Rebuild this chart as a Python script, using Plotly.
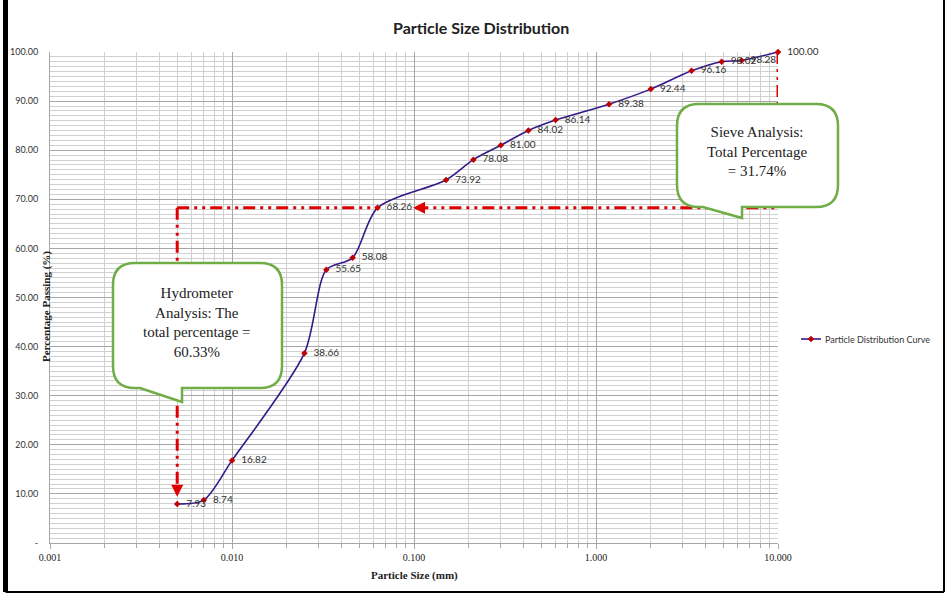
import math
import plotly.graph_objects as go

# ---- data ----
particle_size_mm = [0.005, 0.007, 0.010, 0.025, 0.033, 0.046, 0.063, 0.150, 0.212,
                    0.300, 0.425, 0.600, 1.18, 2.00, 3.35, 4.90, 6.30, 10.0]
percent_passing = [7.93, 8.74, 16.82, 38.66, 55.65, 58.08, 68.26, 73.92, 78.08,
                   81.00, 84.02, 86.14, 89.38, 92.44, 96.16, 98.02, 98.28, 100.00]
series_name = "Particle Distribution Curve"
y_tick_vals = [0, 10, 20, 30, 40, 50, 60, 70, 80, 90, 100]
y_tick_text = ["-", "10.00", "20.00", "30.00", "40.00", "50.00", "60.00",
               "70.00", "80.00", "90.00", "100.00"]
sieve_text = "Sieve Analysis:<br>Total Percentage<br>= 31.74%"
hydro_text = "Hydrometer<br>Analysis: The<br>total percentage =<br>60.33%"

W, H = 948, 595
L, R, T, B = 50, 170, 52, 52
PW, PH = W - L - R, H - T - B

LINE_COLOR = "#35188A"
MARKER_COLOR = "#C00000"


def px(xp, yp):
    """pixel -> paper coords"""
    return (xp - L) / PW, (H - B - yp) / PH


def P(x, y):
    a, b = px(x, y)
    return f"{a:.5f},{b:.5f}"


def callout_path(x0, y0, x1, y1, r, tl, tip, tr):
    s = f"M {P(x0 + r, y0)} L {P(x1 - r, y0)} Q {P(x1, y0)} {P(x1, y0 + r)} "
    s += f"L {P(x1, y1 - r)} Q {P(x1, y1)} {P(x1 - r, y1)} "
    s += f"L {P(tr, y1)} L {P(tip[0], tip[1])} L {P(tl, y1)} "
    s += f"L {P(x0 + r, y1)} Q {P(x0, y1)} {P(x0, y1 - r)} "
    s += f"L {P(x0, y0 + r)} Q {P(x0, y0)} {P(x0 + r, y0)} Z"
    return s


fig = go.Figure()
fig.add_trace(go.Scatter(
    x=particle_size_mm, y=percent_passing, mode="lines+markers+text",
    name=series_name, showlegend=False,
    line=dict(color=LINE_COLOR, width=1.6, shape="spline", smoothing=0.8),
    marker=dict(symbol="diamond", size=5, color=MARKER_COLOR),
    text=["\u2002" + f"{v:.2f}" for v in percent_passing],
    textposition="middle right",
    textfont=dict(family="Lato", size=10, color="#333333"),
    cliponaxis=False,
))

RED = "#E00000"
DASH = "12px,5px,3px,5px,3px,5px"
lx = math.log10
x_hyd = particle_size_mm[0]
y_cut = percent_passing[6]
x_max = particle_size_mm[-1]
shapes = [
    # horizontal dash-dot line at 68.26
    dict(type="line", xref="x", yref="y", x0=x_hyd, x1=particle_size_mm[6],
         y0=y_cut, y1=y_cut, line=dict(color=RED, width=3, dash=DASH), layer="above"),
    dict(type="line", xref="x", yref="y", x0=0.103, x1=x_max,
         y0=y_cut, y1=y_cut, line=dict(color=RED, width=3, dash=DASH), layer="above"),
    # vertical line down to hydrometer start
    dict(type="line", xref="x", yref="y", x0=x_hyd, x1=x_hyd,
         y0=y_cut, y1=10.5, line=dict(color=RED, width=3, dash=DASH), layer="above"),
    # vertical line at right edge
    dict(type="line", xref="x", yref="y", x0=x_max, x1=x_max,
         y0=percent_passing[-1], y1=y_cut, line=dict(color=RED, width=3, dash=DASH), layer="above"),
    # callouts
    dict(type="path", xref="paper", yref="paper",
         path=callout_path(677, 104, 838, 207, 22, 703, (742, 218), 742),
         fillcolor="white", line=dict(color="#70AD47", width=2.5), layer="above"),
    dict(type="path", xref="paper", yref="paper",
         path=callout_path(113, 263, 282, 388, 22, 140, (182, 402), 182),
         fillcolor="white", line=dict(color="#70AD47", width=2.5), layer="above"),
    # legend key (line + diamond)
    dict(type="line", xref="paper", yref="paper",
         x0=px(801, 0)[0], x1=px(821, 0)[0], y0=px(0, 339)[1], y1=px(0, 339)[1],
         line=dict(color=LINE_COLOR, width=1.6)),
    dict(type="path", xref="paper", yref="paper",
         path=f"M {P(811, 336)} L {P(814, 339)} L {P(811, 342)} L {P(808, 339)} Z",
         fillcolor=MARKER_COLOR, line=dict(color=MARKER_COLOR, width=0.5)),
]
# black frame
fx0, fy0 = px(5.5, 0)
fx1, fy1 = px(944, 592)
shapes.append(dict(type="line", xref="paper", yref="paper", x0=fx0, x1=fx0, y0=fy0, y1=fy1,
                   line=dict(color="black", width=5)))
shapes.append(dict(type="line", xref="paper", yref="paper", x0=fx1, x1=fx1, y0=fy0, y1=fy1,
                   line=dict(color="black", width=2)))
shapes.append(dict(type="line", xref="paper", yref="paper", x0=fx0, x1=fx1, y0=fy1, y1=fy1,
                   line=dict(color="black", width=2)))

C = dict(xanchor="center", yanchor="middle", showarrow=False, xref="paper", yref="paper")
annotations = [
    dict(text="<b>Particle Size Distribution</b>",
         x=px(481, 0)[0], y=px(0, 28)[1],
         font=dict(family="Lato", size=16, color="#222222"), **C),
    dict(text="<b>Particle Size (mm)</b>",
         x=px(414, 0)[0], y=px(0, 575)[1],
         font=dict(family="Liberation Serif", size=11, color="#222222"), **C),
    dict(text="<b>Percentage Passing (%)</b>",
         x=px(46, 0)[0], y=px(0, 307)[1], textangle=-90,
         font=dict(family="Liberation Serif", size=11, color="#222222"), **C),
    dict(text=sieve_text,
         x=px(757, 0)[0], y=px(0, 151)[1],
         font=dict(family="Liberation Serif", size=15, color="#222222"), **C),
    dict(text=hydro_text,
         x=px(197, 0)[0], y=px(0, 322)[1],
         font=dict(family="Liberation Serif", size=15, color="#222222"), **C),
    # legend text
    dict(text=series_name, x=px(823, 0)[0], y=px(0, 339)[1],
         xref="paper", yref="paper", xanchor="left", yanchor="middle", showarrow=False,
         font=dict(family="Lato", size=9, color="#333333")),
    # arrowheads
    dict(x=-1.005, y=y_cut, xref="x", yref="y", ax=10, ay=0, text="", showarrow=True,
         arrowhead=2, arrowsize=0.8, arrowwidth=3, arrowcolor=RED),
    dict(x=lx(x_hyd), y=9.4, xref="x", yref="y", ax=0, ay=-10, text="", showarrow=True,
         arrowhead=2, arrowsize=0.8, arrowwidth=3, arrowcolor=RED),
]

fig.update_layout(
    width=W, height=H,
    margin=dict(l=L, r=R, t=T, b=B, autoexpand=False),
    paper_bgcolor="white", plot_bgcolor="white",
    shapes=shapes, annotations=annotations,
    showlegend=False,
    xaxis=dict(type="log", range=[-3, 1], dtick=1, tickformat=".3f",
               showgrid=True, gridcolor="#A6A6A6", gridwidth=1,
               minor=dict(dtick="D1", showgrid=True, gridcolor="#D0D0D0",
                          ticks="outside", ticklen=4, tickcolor="#A6A6A6"),
               ticks="outside", ticklen=5, tickcolor="#A6A6A6",
               showline=True, linecolor="#A6A6A6", zeroline=False,
               tickfont=dict(family="Liberation Serif", size=10, color="#222222")),
    yaxis=dict(range=[0, 100], tickmode="array", tickvals=y_tick_vals, ticktext=y_tick_text,
               showgrid=True, gridcolor="#A6A6A6", gridwidth=1,
               minor=dict(dtick=1, showgrid=True, gridcolor="#D0D0D0"),
               showline=True, linecolor="#A6A6A6", zeroline=False,
               ticklabelstandoff=9,
               tickfont=dict(family="Lato", size=9, color="#333333")),
)

fig.write_html("out.html", config={"displayModeBar": False},
               post_script="document.body.style.margin='0';")
